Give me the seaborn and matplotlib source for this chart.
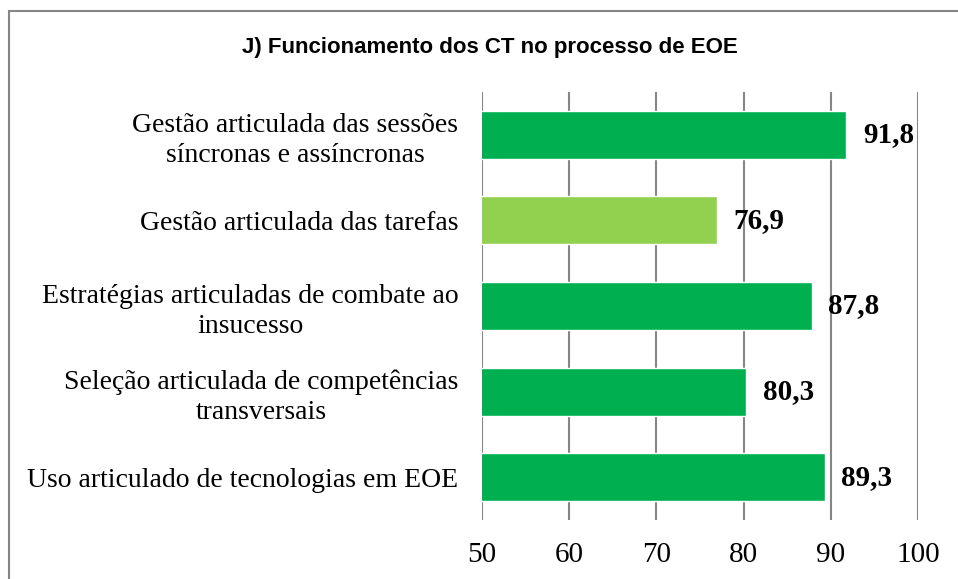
import matplotlib
matplotlib.use("Agg")
import matplotlib.pyplot as plt
import matplotlib.patches as patches
import seaborn as sns
import pandas as pd

categories = [
    "Gestão articulada das sessões\nsíncronas e assíncronas",
    "Gestão articulada das tarefas",
    "Estratégias articuladas de combate ao\ninsucesso",
    "Seleção articulada de competências\ntransversais",
    "Uso articulado de tecnologias em EOE",
]
values = [91.8, 76.9, 87.8, 80.3, 89.3]
bar_colors = ["#00B050", "#92D050", "#00B050", "#00B050", "#00B050"]
value_labels = ["91,8", "76,9", "87,8", "80,3", "89,3"]
title = "J) Funcionamento dos CT no processo de EOE"

df = pd.DataFrame({"cat": categories, "val": values})

sns.set_style("white")
plt.rcParams["font.family"] = ["Liberation Serif", "DejaVu Serif"]

fig = plt.figure(figsize=(9.58, 5.79), dpi=100)
ax = fig.add_axes([482 / 958, 1 - 520 / 579, 436 / 958, 428 / 579])

sns.barplot(data=df, x="val", y="cat", hue="cat", palette=bar_colors,
            legend=False, width=0.56, ax=ax, saturation=1)

ax.set_xlim(50, 100)
ax.set_xticks([50, 60, 70, 80, 90, 100])
ax.grid(axis="x", color="#868686", linewidth=1.5)
ax.set_axisbelow(True)
for s in ax.spines.values():
    s.set_visible(False)
ax.set_xlabel("")
ax.set_ylabel("")
ax.tick_params(axis="x", length=0, pad=16, labelsize=21, colors="black")
ax.tick_params(axis="y", length=0, pad=17, labelsize=20, colors="black")
for lab in ax.get_yticklabels():
    lab.set_multialignment("center")
    lab.set_linespacing(1.25)

for i, (v, t) in enumerate(zip(values, value_labels)):
    ax.annotate(t, xy=(v, i), xytext=(12, 0), textcoords="offset points",
                va="center", ha="left", fontsize=21, fontweight="bold",
                color="black")

fig.text(490 / 958, 1 - 47 / 579, title, ha="center", va="center",
         fontsize=16, fontweight="bold", color="black",
         family=["Liberation Sans Narrow", "Liberation Sans", "DejaVu Sans"])

fig.patches.append(patches.Rectangle((9 / 958, -0.1), 1.2, 1 - 11 / 579 + 0.1,
                                     transform=fig.transFigure, fill=False,
                                     edgecolor="#868686", linewidth=1.5))

fig.savefig("out.png", dpi=100)
